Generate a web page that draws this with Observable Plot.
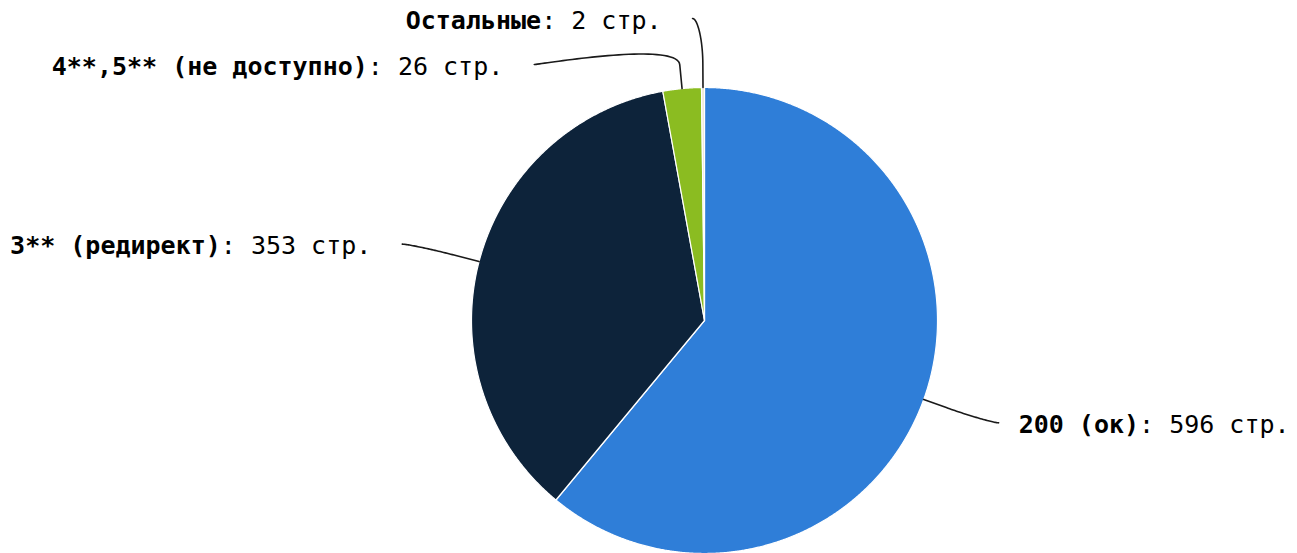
<!DOCTYPE html>
<html><head><meta charset="utf-8">
<script src="https://cdn.jsdelivr.net/npm/d3@7"></script>
<script src="https://cdn.jsdelivr.net/npm/@observablehq/plot@0.6"></script>
<style>html,body{margin:0;padding:0;background:#fff;overflow:hidden}</style>
</head><body><div id="chart"></div>
<script>
// ---- data ----
const names = ["200 (ок)", "3** (редирект)", "4**,5** (не доступно)", "Остальные"];
const values = [596, 353, 26, 2];
const unit = "стр.";
const colors = ["#2f7ed8", "#0d233a", "#8bbc21", "#efe8d8"];

// ---- layout (pixels) ----
const W = 1297, H = 553, CX = 704, CY = 320, RP = 233;
const LABEL_R = 302 / RP, BREAK_R = 257 / RP, PAD = 10 / RP;
const TEXT_GAP_R = 20 / RP, TEXT_GAP_L = 31 / RP, MIN_GAP = 46 / RP, TOP_V = (CY - 18) / RP;

const arcs = d3.pie().sort(null).value(d => d)(values);
const slices = names.map((name, i) => ({
  name, value: values[i], color: colors[i],
  start: arcs[i].startAngle, end: arcs[i].endAngle,
  mid: (arcs[i].startAngle + arcs[i].endAngle) / 2
}));
const pt = (a, rho) => ({x: rho * Math.sin(a), y: rho * Math.cos(a)});

function slicePoints(s) {
  const pts = [{x: 0, y: 0}];
  const n = Math.max(2, Math.ceil((s.end - s.start) / (Math.PI / 720)));
  for (let k = 0; k <= n; k++) pts.push(pt(s.start + (s.end - s.start) * k / n, 1));
  pts.push({x: 0, y: 0});
  return pts;
}

// label placement
const labels = slices.map(s => ({...s, left: Math.sin(s.mid) < 0, y: LABEL_R * Math.cos(s.mid)}));
for (const side of [true, false]) {
  const group = labels.filter(l => l.left === side).sort((a, b) => b.y - a.y);
  let prev = Infinity;
  for (const l of group) { l.y = Math.min(l.y, TOP_V, prev - MIN_GAP); prev = l.y; }
}
for (const l of labels) {
  const dx = Math.sqrt(Math.max(0, LABEL_R * LABEL_R - l.y * l.y)) + PAD;
  l.x = l.left ? -dx : dx;
  l.tx = l.left ? l.x - TEXT_GAP_L : l.x + TEXT_GAP_R;
  l.text = l.name + ": " + l.value + " " + unit;
}

function bez(p0, p1, p2, p3, n) {
  const out = [];
  for (let k = 0; k <= n; k++) {
    const t = k / n, m = 1 - t;
    out.push({
      x: m*m*m*p0.x + 3*m*m*t*p1.x + 3*m*t*t*p2.x + t*t*t*p3.x,
      y: m*m*m*p0.y + 3*m*m*t*p1.y + 3*m*t*t*p2.y + t*t*t*p3.y
    });
  }
  return out;
}
const connectors = labels.flatMap(l => {
  const touch = pt(l.mid, 1), brk = pt(l.mid, BREAK_R);
  const p0 = {x: l.x, y: l.y};
  const c1 = {x: l.x + (l.left ? 5 : -5) / RP, y: l.y};
  const c2 = {x: 2 * brk.x - touch.x, y: 2 * brk.y - touch.y};
  return [...bez(p0, c1, c2, brk, 40), touch].map(p => ({...p, name: l.name}));
});

const marks = slices.map(s => Plot.line(slicePoints(s), {
  x: "x", y: "y", fill: s.color, stroke: "#ffffff", strokeWidth: 1.2, curve: "linear"
}));
marks.push(Plot.line(connectors, {x: "x", y: "y", z: "name", stroke: "#1a1a1a", strokeWidth: 1.6, curve: "linear"}));
marks.push(Plot.text(labels.filter(l => !l.left), {x: "tx", y: "y", text: "text", textAnchor: "start", dy: 2, fill: "#000", fontSize: 25}));
marks.push(Plot.text(labels.filter(l => l.left), {x: "tx", y: "y", text: "text", textAnchor: "end", dy: 2, fill: "#000", fontSize: 25}));

const chart = Plot.plot({
  width: W, height: H, margin: 0,
  x: {domain: [-CX / RP, (W - CX) / RP], axis: null},
  y: {domain: [-(H - CY) / RP, CY / RP], axis: null},
  style: {fontFamily: "'DejaVu Sans Mono', monospace", background: "#ffffff", overflow: "visible"},
  marks
});

// bold name + normal value as tspans
d3.select(chart).selectAll("text").each(function () {
  const full = this.textContent;
  const i = full.indexOf(": ");
  if (i < 0) return;
  const sel = d3.select(this);
  sel.text(null);
  sel.append("tspan").attr("font-weight", "bold").style("font-weight", "bold").text(full.slice(0, i));
  sel.append("tspan").attr("font-weight", "normal").style("font-weight", "normal").text(full.slice(i));
});
document.getElementById("chart").appendChild(chart);
</script>
</body></html>
